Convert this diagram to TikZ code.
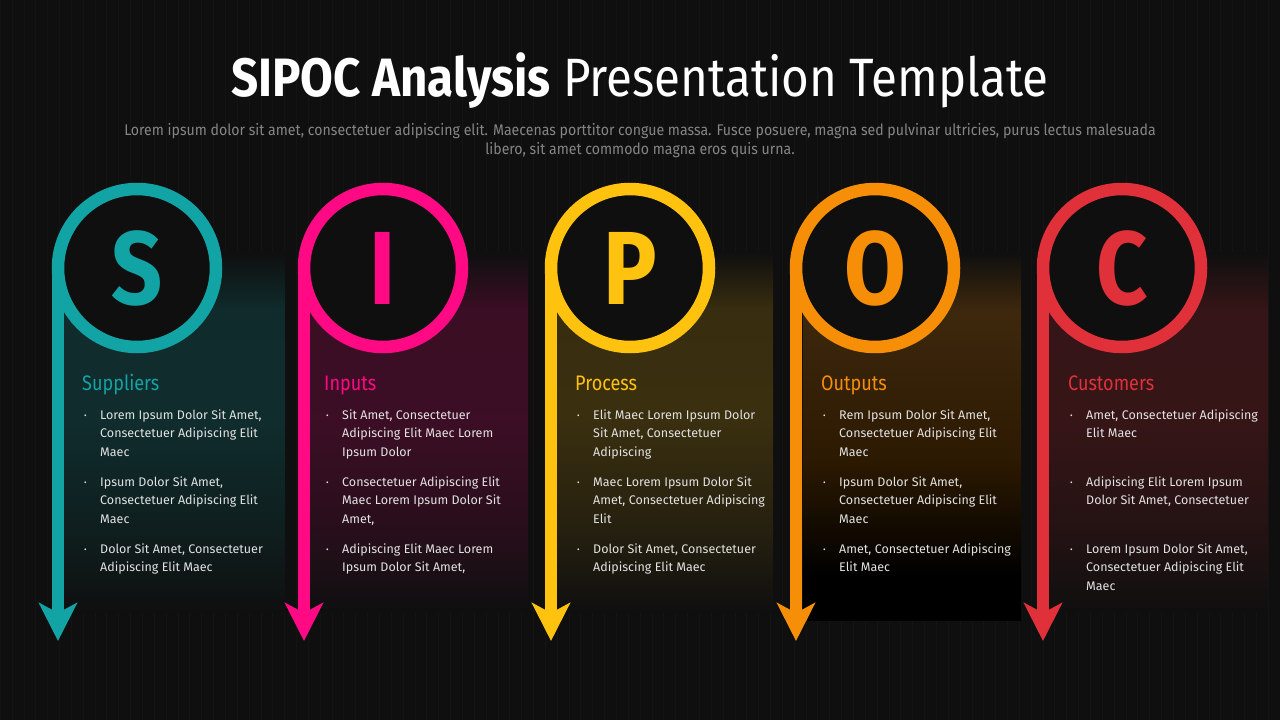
\documentclass[tikz,border=0pt]{standalone}
\usepackage{fontspec}
\setmainfont{Fira Sans}
\newfontfamily\condfont[FakeStretch=0.86]{Fira Sans}
\newfontfamily\titlefont[FakeStretch=0.88]{Fira Sans}
\newfontfamily\subfont[FakeStretch=0.91]{Fira Sans}
\usetikzlibrary{arrows.meta}
\definecolor{bgc}{HTML}{0F0F0F}
\definecolor{gridc}{HTML}{141414}
\definecolor{txtc}{HTML}{E2E2E2}
\definecolor{subc}{HTML}{858585}
\definecolor{cteal}{HTML}{12A3A5}
\definecolor{cpink}{HTML}{FF0A84}
\definecolor{cyell}{HTML}{FFC20E}
\definecolor{corng}{HTML}{F78E08}
\definecolor{cred}{HTML}{E0303A}
% TikZ maps the path onto 25bp (bottom) .. 75bp (top)
\pgfdeclareverticalshading{panelS}{100bp}{color(0bp)=(bgc); color(25bp)=(bgc); color(36bp)=(cteal!10!bgc); color(52bp)=(cteal!20!bgc); color(67bp)=(cteal!19!bgc); color(75bp)=(bgc); color(100bp)=(bgc)}
\pgfdeclareverticalshading{panelI}{100bp}{color(0bp)=(bgc); color(25bp)=(bgc); color(36bp)=(cpink!10!bgc); color(52bp)=(cpink!19!bgc); color(67bp)=(cpink!18!bgc); color(75bp)=(bgc); color(100bp)=(bgc)}
\pgfdeclareverticalshading{panelP}{100bp}{color(0bp)=(bgc); color(25bp)=(bgc); color(36bp)=(cyell!9!bgc); color(52bp)=(cyell!18!bgc); color(67bp)=(cyell!17!bgc); color(75bp)=(bgc); color(100bp)=(bgc)}
\pgfdeclareverticalshading{panelO}{100bp}{color(0bp)=(black); color(25bp)=(black); color(31bp)=(black); color(47bp)=(corng!18!black); color(67bp)=(corng!20!bgc); color(75bp)=(bgc); color(100bp)=(bgc)}
\pgfdeclareverticalshading{panelC}{100bp}{color(0bp)=(bgc); color(25bp)=(bgc); color(36bp)=(cred!10!bgc); color(52bp)=(cred!19!bgc); color(67bp)=(cred!18!bgc); color(75bp)=(bgc); color(100bp)=(bgc)}
\begin{document}
\begin{tikzpicture}[x=1pt,y=-1pt,
  ring/.style={circle, draw=#1, text=#1, line width=12.5pt, minimum size=158pt,
    inner sep=0pt, outer sep=0pt, fill=bgc,
    font=\condfont\bfseries\fontsize{104}{104}\selectfont},
  flow/.style={draw=#1, line width=12pt,
    -{Stealth[length=38pt,width=38pt,inset=10pt]}},
  head/.style={anchor=base west, inner sep=0pt, text=#1,
    font=\condfont\fontsize{21}{21}\selectfont},
  item/.style={anchor=north west, inner sep=0pt, text=txtc,
    font=\fontsize{12.5}{18.7}\selectfont},
  ttl/.style={anchor=base, inner sep=0pt, text=white,
    font=\titlefont\fontsize{54}{54}\selectfont},
  sub/.style={anchor=north, inner sep=0pt, text=subc, align=center,
    font=\subfont\fontsize{15.5}{19}\selectfont}
]
\newcommand\bul{{\fontsize{8}{8}\selectfont\raisebox{1pt}{•}}}
\fill[bgc] (0,0) rectangle (1280,720);
\useasboundingbox (0,0) rectangle (1280,720);
\draw[gridc, line width=0.4pt, step=11.85] (0,0) grid (1280,720);

% title
\node[ttl] (title) at (640,96) {{\bfseries SIPOC Analysis} Presentation Template};
\node[sub] (subtitle) at (640,123) {Lorem ipsum dolor sit amet, consectetuer adipiscing elit. Maecenas porttitor congue massa. Fusce posuere, magna sed pulvinar ultricies, purus lectus malesuada\\libero, sit amet commodo magna eros quis urna.};

% panels
\shade[shading=panelS] (64,252) rectangle (285,612);
\shade[shading=panelI] (310,252) rectangle (528,612);
\shade[shading=panelP] (557,252) rectangle (773,612);
\shade[shading=panelO] (803,252) rectangle (1021,620);
\shade[shading=panelC] (1049,252) rectangle (1268,612);

% S
\node[ring=cteal] (cS) at (137,268) {S};
\coordinate (tS) at (58,641);
\draw[flow=cteal] (cS.west) -- (tS);
\node[head=cteal] (hS) at (82,390) {Suppliers};
\node[item] (s1) at (84,406) {\begin{tabular}{@{}p{16pt}@{}l@{}}\bul&Lorem Ipsum Dolor Sit Amet,\\&Consectetuer Adipiscing Elit\\&Maec\end{tabular}};
\node[item] (s2) at (84,473) {\begin{tabular}{@{}p{16pt}@{}l@{}}\bul&Ipsum Dolor Sit Amet,\\&Consectetuer Adipiscing Elit\\&Maec\end{tabular}};
\node[item] (s3) at (84,540) {\begin{tabular}{@{}p{16pt}@{}l@{}}\bul&Dolor Sit Amet, Consectetuer\\&Adipiscing Elit Maec\end{tabular}};

% I
\node[ring=cpink] (cI) at (383,268) {I};
\coordinate (tI) at (304,641);
\draw[flow=cpink] (cI.west) -- (tI);
\node[head=cpink] (hI) at (324,390) {Inputs};
\node[item] (i1) at (326,406) {\begin{tabular}{@{}p{16pt}@{}l@{}}\bul&Sit Amet, Consectetuer\\&Adipiscing Elit Maec Lorem\\&Ipsum Dolor\end{tabular}};
\node[item] (i2) at (326,473) {\begin{tabular}{@{}p{16pt}@{}l@{}}\bul&Consectetuer Adipiscing Elit\\&Maec Lorem Ipsum Dolor Sit\\&Amet,\end{tabular}};
\node[item] (i3) at (326,540) {\begin{tabular}{@{}p{16pt}@{}l@{}}\bul&Adipiscing Elit Maec Lorem\\&Ipsum Dolor Sit Amet,\end{tabular}};

% P
\node[ring=cyell] (cP) at (630,268) {P};
\coordinate (tP) at (551,641);
\draw[flow=cyell] (cP.west) -- (tP);
\node[head=cyell] (hP) at (575,390) {Process};
\node[item] (p1) at (577,406) {\begin{tabular}{@{}p{16pt}@{}l@{}}\bul&Elit Maec Lorem Ipsum Dolor\\&Sit Amet, Consectetuer\\&Adipiscing\end{tabular}};
\node[item] (p2) at (577,473) {\begin{tabular}{@{}p{16pt}@{}l@{}}\bul&Maec Lorem Ipsum Dolor Sit\\&Amet, Consectetuer Adipiscing\\&Elit\end{tabular}};
\node[item] (p3) at (577,540) {\begin{tabular}{@{}p{16pt}@{}l@{}}\bul&Dolor Sit Amet, Consectetuer\\&Adipiscing Elit Maec\end{tabular}};

% O
\node[ring=corng] (cO) at (875,268) {O};
\coordinate (tO) at (796,641);
\draw[flow=corng] (cO.west) -- (tO);
\node[head=corng] (hO) at (821,390) {Outputs};
\node[item] (o1) at (823,406) {\begin{tabular}{@{}p{16pt}@{}l@{}}\bul&Rem Ipsum Dolor Sit Amet,\\&Consectetuer Adipiscing Elit\\&Maec\end{tabular}};
\node[item] (o2) at (823,473) {\begin{tabular}{@{}p{16pt}@{}l@{}}\bul&Ipsum Dolor Sit Amet,\\&Consectetuer Adipiscing Elit\\&Maec\end{tabular}};
\node[item] (o3) at (823,540) {\begin{tabular}{@{}p{16pt}@{}l@{}}\bul&Amet, Consectetuer Adipiscing\\&Elit Maec\end{tabular}};

% C
\node[ring=cred] (cC) at (1122,268) {C};
\coordinate (tC) at (1043,641);
\draw[flow=cred] (cC.west) -- (tC);
\node[head=cred] (hC) at (1068,390) {Customers};
\node[item] (c1) at (1070,406) {\begin{tabular}{@{}p{16pt}@{}l@{}}\bul&Amet, Consectetuer Adipiscing\\&Elit Maec\end{tabular}};
\node[item] (c2) at (1070,473) {\begin{tabular}{@{}p{16pt}@{}l@{}}\bul&Adipiscing Elit Lorem Ipsum\\&Dolor Sit Amet, Consectetuer\end{tabular}};
\node[item] (c3) at (1070,540) {\begin{tabular}{@{}p{16pt}@{}l@{}}\bul&Lorem Ipsum Dolor Sit Amet,\\&Consectetuer Adipiscing Elit\\&Maec\end{tabular}};
\end{tikzpicture}
\end{document}
